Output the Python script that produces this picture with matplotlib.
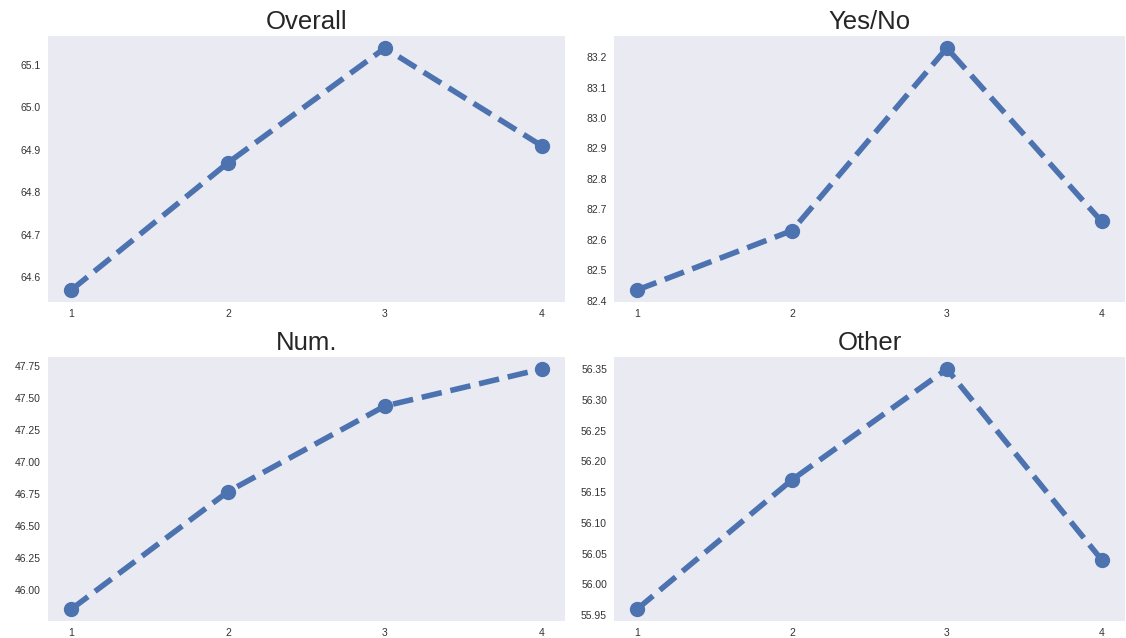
import matplotlib
matplotlib.use('Agg')
import matplotlib.pyplot as plt

plt.rcParams['font.family'] = ['Liberation Sans', 'DejaVu Sans']

# Values
steps = [1, 2, 3, 4]
titles = ['Overall', 'Yes/No', 'Num.', 'Other']
overall = [64.57, 64.87, 65.14, 64.91]
yes_no = [82.435, 82.63, 83.23, 82.66]
num = [45.85, 46.77, 47.44, 47.73]
other = [55.96, 56.17, 56.35, 56.04]
series = [overall, yes_no, num, other]

fig = plt.figure(figsize=(11.26, 6.38), dpi=100)

# axes rectangles (left, bottom, width, height) in figure fractions
rects = [
    (0.0426, 0.5266, 0.4592, 0.4170),
    (0.5453, 0.5266, 0.4537, 0.4170),
    (0.0426, 0.0266, 0.4592, 0.4138),
    (0.5453, 0.0266, 0.4537, 0.4138),
]

for rect, title, vals in zip(rects, titles, series):
    ax = fig.add_axes(rect)
    ax.set_facecolor('#EAEAF2')
    for s in ax.spines.values():
        s.set_visible(False)
    ax.plot(steps, vals, color='#4C72B0', linestyle='--', linewidth=4,
            marker='o', markersize=10)
    ax.set_xticks(steps)
    ax.tick_params(axis='both', length=0, labelsize=7.5, colors='#333333', pad=5)
    ax.set_title(title, fontsize=18.5, color='#262626', pad=5)

fig.savefig('out.png', dpi=100, facecolor='white')
